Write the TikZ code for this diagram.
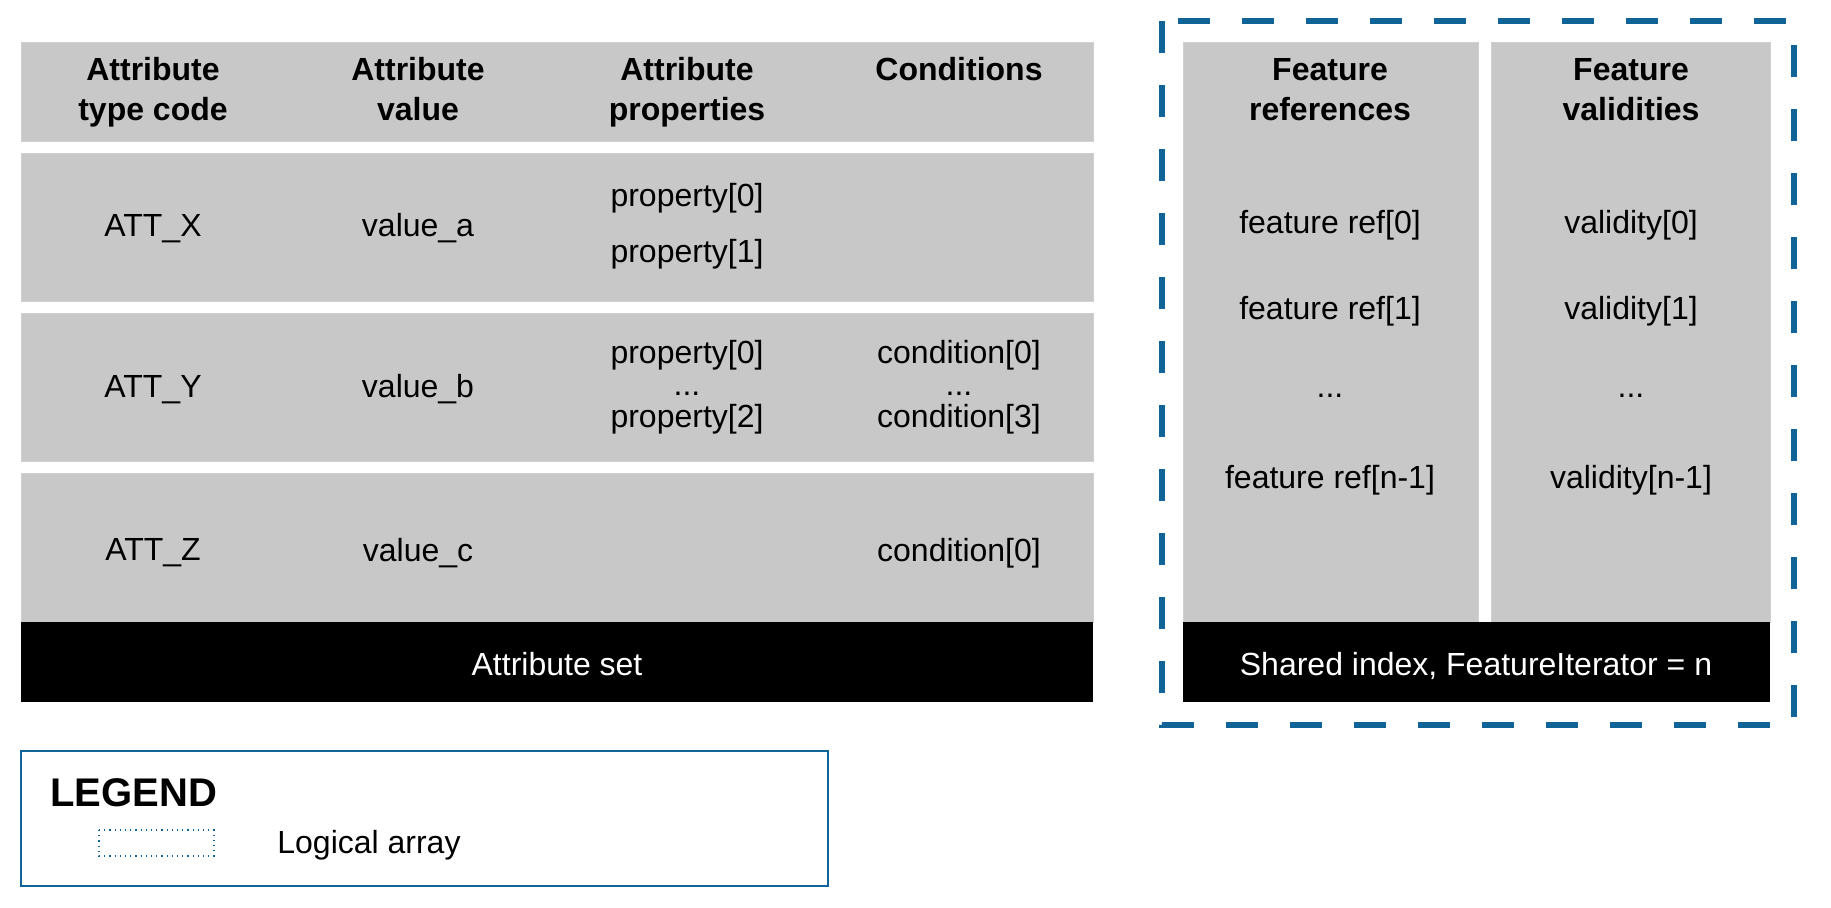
\documentclass[tikz,border=0pt]{standalone}
\usepackage{fontspec}
\setmainfont{Liberation Sans}
\definecolor{frameblue}{RGB}{16,100,152}
\definecolor{cellgrey}{RGB}{200,200,200}

\begin{document}
\begin{tikzpicture}[x=0.5pt, y=-0.5pt,
  cell/.style={fill=cellgrey, draw=cellgrey!85!white, line width=0.4pt},
  bar/.style={fill=black},
  txt/.style={inner sep=0pt, align=center, font=\fontsize{16}{20}\selectfont},
  head/.style={txt, font=\bfseries\fontsize{16}{20}\selectfont},
  bartxt/.style={txt, text=white}]
  \useasboundingbox (0,0) rectangle (1831,907);

  % attribute set
  \path[cell] (21,42) rectangle (1093,141);
  \path[cell] (21,153) rectangle (1093,301);
  \path[cell] (21,313) rectangle (1093,461);
  \path[cell] (21,473) rectangle (1093,622);
  \path[bar] (21,622) rectangle (1093,702);

  \node[head] (hcode) at (153,92.5) {Attribute\\type code};
  \node[head] (hval) at (418,89) {Attribute\\value};
  \node[head] (hprop) at (687,92.5) {Attribute\\properties};
  \node[head] (hcond) at (959,69) {Conditions};

  \node[txt] (attx) at (153,228.5) {ATT\_X};
  \node[txt] (vala) at (418,228.5) {value\_a};
  \node[txt] (xprop0) at (687,198) {property[0]};
  \node[txt] (xprop1) at (687,254) {property[1]};

  \node[txt] (atty) at (153,389.5) {ATT\_Y};
  \node[txt] (valb) at (418,389.5) {value\_b};
  \node[txt, font=\fontsize{16}{16}\selectfont] (yprop) at (687,387) {property[0]\\...\\property[2]};
  \node[txt, font=\fontsize{16}{16}\selectfont] (ycond) at (959,387) {condition[0]\\...\\condition[3]};

  \node[txt] (attz) at (153,553) {ATT\_Z};
  \node[txt] (valc) at (418,553) {value\_c};
  \node[txt] (zcond0) at (959,553.5) {condition[0]};

  \node[bartxt] (attset) at (557,664) {Attribute set};

  % logical array
  \draw[frameblue, line width=3pt, dash pattern=on 16pt off 16pt] (1162,21) rectangle (1794,725);
  \path[cell] (1183,42) rectangle (1478,622);
  \path[cell] (1491,42) rectangle (1770,622);
  \path[bar] (1183,622) rectangle (1770,702);

  \node[head] (hrefs) at (1330,90) {Feature\\references};
  \node[head] (hvals) at (1631,90) {Feature\\validities};
  \foreach \i/\y in {0/225, 1/311} {
    \node[txt] (ref\i) at (1330,\y) {feature ref[\i]};
    \node[txt] (valid\i) at (1631,\y) {validity[\i]};
  }
  \node[txt] (refdots) at (1330,396) {...};
  \node[txt] (validdots) at (1631,396) {...};
  \node[txt] (refn) at (1330,480) {feature ref[n-1]};
  \node[txt] (validn) at (1631,480) {validity[n-1]};

  \node[bartxt] (shared) at (1476,666) {Shared index, FeatureIterator = n};

  % legend
  \draw[frameblue, line width=1.2pt] (21,751) rectangle (828,886);
  \node[txt, anchor=west, font=\bfseries\fontsize{20}{24}\selectfont] (legend) at (50,793) {LEGEND};
  \draw[frameblue, line width=0.6pt, dotted] (99,830) rectangle (214,856);
  \node[txt, anchor=west] (logarr) at (277,845) {Logical array};
\end{tikzpicture}
\end{document}
